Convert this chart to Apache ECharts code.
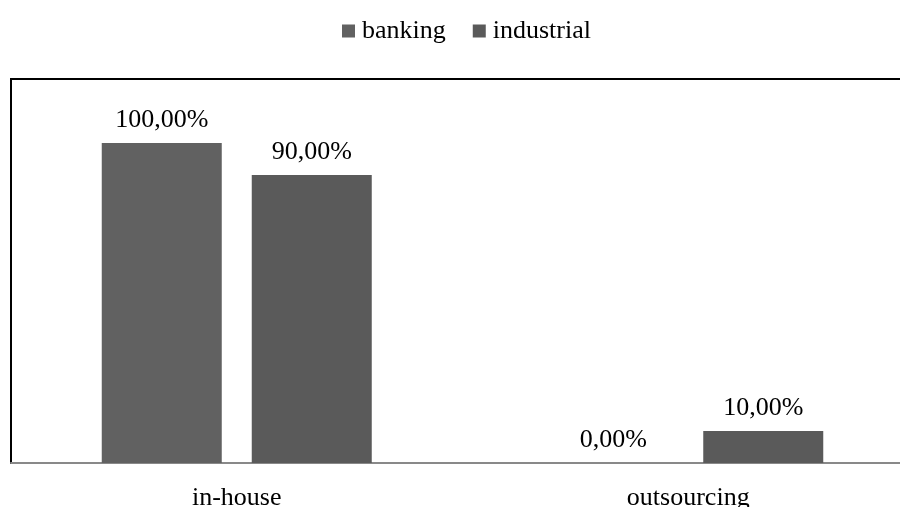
<!DOCTYPE html>
<html>
<head>
<meta charset="utf-8">
<script src="https://cdn.jsdelivr.net/npm/echarts@6/dist/echarts.min.js"></script>
<style>html,body{margin:0;padding:0;background:#fff}#c{width:900px;height:507px}</style>
</head>
<body>
<div id="c"></div>
<script>
var categories = ['in-house', 'outsourcing'];
var banking = [100, 0];
var industrial = [90, 10];
var seriesNames = ['banking', 'industrial'];

var chart = echarts.init(document.getElementById('c'), null, {renderer: 'canvas'});
var font = 'Liberation Serif';
function fmt(p) { return p.value.toFixed(2).replace('.', ',') + '%'; }
var labelCfg = {show: true, position: 'top', distance: 10, formatter: fmt, color: '#000', fontFamily: font, fontSize: 26};
chart.setOption({
  animation: false,
  textStyle: {fontFamily: font},
  legend: {
    top: 13, left: 337, itemWidth: 13, itemHeight: 13, itemGap: 27,
    icon: 'rect',
    textStyle: {fontFamily: font, fontSize: 26, color: '#000', padding: [0,0,0,2]},
    data: seriesNames
  },
  grid: {left: 11, top: 79, width: 903, height: 384, show: true, borderColor: '#000', borderWidth: 2, containLabel: false, outerBoundsMode: 'none'},
  xAxis: {
    type: 'category', data: categories,
    axisLine: {lineStyle: {color: '#898989', width: 2}},
    axisTick: {show: false},
    axisLabel: {color: '#000', fontFamily: font, fontSize: 26, margin: 22}
  },
  yAxis: {type: 'value', min: 0, max: 120, show: false, splitLine: {show: false}},
  series: [
    {name: seriesNames[0], type: 'bar', data: banking, barWidth: 120, barGap: '25%', itemStyle: {color: '#616161'}, label: labelCfg},
    {name: seriesNames[1], type: 'bar', data: industrial, barWidth: 120, itemStyle: {color: '#5a5a5a'}, label: labelCfg}
  ]
});
</script>
</body>
</html>
